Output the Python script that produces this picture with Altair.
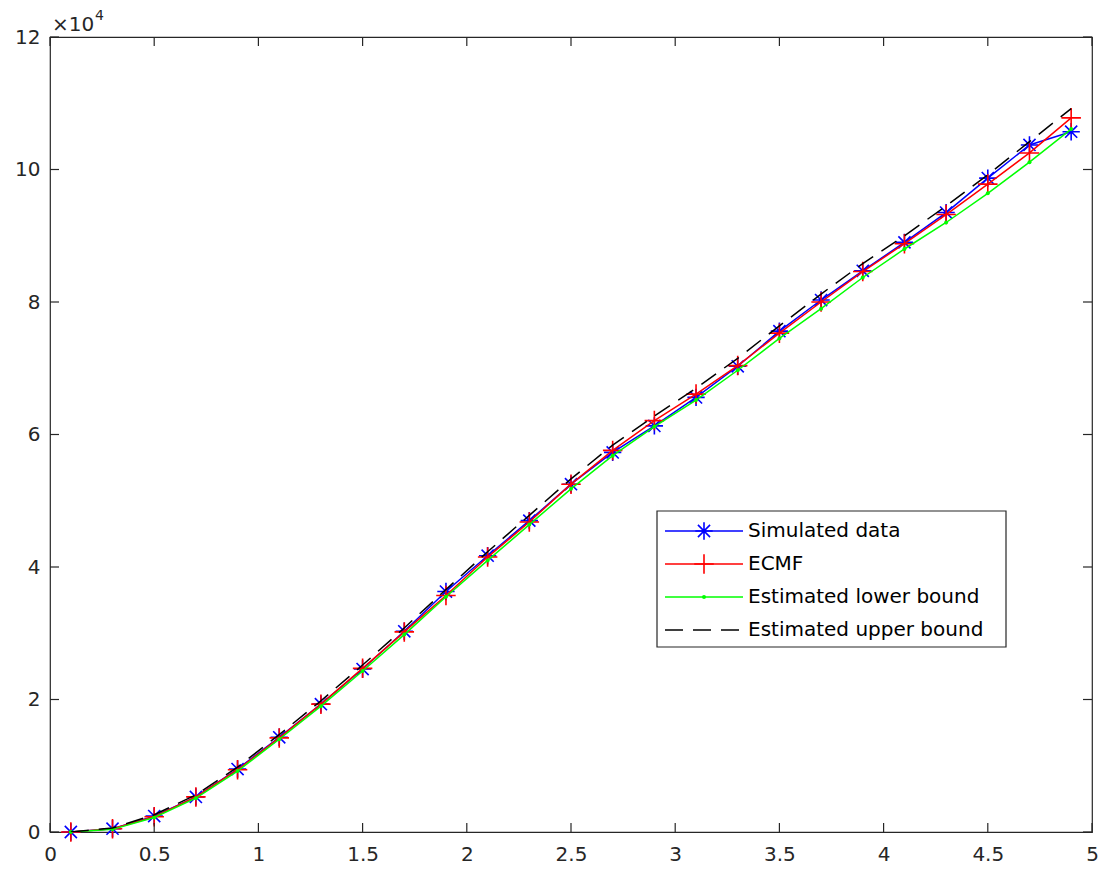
import altair as alt
import pandas as pd

# ---------------- data ----------------
x_vals = [0.1, 0.3, 0.5, 0.7, 0.9, 1.1, 1.3, 1.5, 1.7, 1.9, 2.1, 2.3, 2.5,
          2.7, 2.9, 3.1, 3.3, 3.5, 3.7, 3.9, 4.1, 4.3, 4.5, 4.7, 4.9]

simulated = [0, 500, 2400, 5300, 9500, 14300, 19300, 24600, 30300, 36300,
             41700, 47000, 52500, 57300, 61300, 65600, 70300, 75600, 80300,
             84700, 89000, 93500, 98700, 103700, 105700]

ecmf = [0, 500, 2300, 5300, 9400, 14200, 19300, 24700, 30200, 35700,
        41500, 46800, 52500, 57600, 62100, 66100, 70400, 75300, 80000,
        84600, 88800, 93200, 97800, 102500, 107800]

lower = [0, 400, 2200, 5100, 9200, 14000, 19000, 24300, 29800, 35500,
         41000, 46400, 51800, 56800, 61200, 65200, 69700, 74500, 79000,
         83700, 88000, 92000, 96400, 101100, 106100]

upper = [0, 600, 2600, 5600, 9800, 14700, 19800, 25200, 30800, 36600,
         42300, 47800, 53300, 58400, 62800, 67000, 71500, 76400, 81200,
         85800, 90000, 94500, 99200, 104200, 109200]

series_names = ["Simulated data", "ECMF", "Estimated lower bound", "Estimated upper bound"]
x_ticks = [0, 0.5, 1, 1.5, 2, 2.5, 3, 3.5, 4, 4.5, 5]
y_ticks = [0, 20000, 40000, 60000, 80000, 100000, 120000]

# ---------------- layout / style ----------------
W, H = 1042, 795
AX = "#262626"
FONT = "DejaVu Sans"
STAR = "M-1,0H1M0,-1V1M-0.7,-0.7L0.7,0.7M-0.7,0.7L0.7,-0.7"
PLUS = "M-1,0H1M0,-1V1"
LW = 1.5

xs = alt.Scale(domain=[0, 5], nice=False, zero=False)
ys = alt.Scale(domain=[0, 120000], nice=False, zero=False)

AXIS_X = alt.Axis(values=x_ticks, format="~g", grid=False, domain=False, ticks=False,
                  labelFont=FONT, labelFontSize=20, labelColor=AX, labelPadding=12,
                  labelFlush=False, labelOverlap=False, title=None)
AXIS_Y = alt.Axis(values=y_ticks, labelExpr="datum.value / 10000", grid=False,
                  domain=False, ticks=False, labelFont=FONT, labelFontSize=20,
                  labelColor=AX, labelPadding=10, labelFlush=False,
                  labelOverlap=False, title=None)


def X(f):
    return alt.X(f, scale=xs, axis=AXIS_X, title=None)


def Y(f):
    return alt.Y(f, scale=ys, axis=AXIS_Y, title=None)


def frame(values):
    return pd.DataFrame({"x": x_vals, "y": values})


def line_layer(values, color, dash=None):
    kw = dict(color=color, strokeWidth=LW, clip=True)
    if dash:
        kw["strokeDash"] = dash
    return alt.Chart(frame(values)).mark_line(**kw).encode(x=X("x:Q"), y=Y("y:Q"))


def point_layer(values, **mk):
    return alt.Chart(frame(values)).mark_point(**mk).encode(x=X("x:Q"), y=Y("y:Q"))


STAR_MK = dict(shape=STAR, size=300, filled=False, strokeWidth=1.6)
PLUS_MK = dict(shape=PLUS, size=380, filled=False, strokeWidth=1.6)
DOT_MK = dict(shape="circle", size=16, filled=True)

layers = []
layers.append(line_layer(simulated, "#0000FF"))
layers.append(point_layer(simulated, color="#0000FF", opacity=1, **STAR_MK))
layers.append(line_layer(ecmf, "#FF0000"))
layers.append(point_layer(ecmf, color="#FF0000", opacity=1, **PLUS_MK))
layers.append(line_layer(lower, "#00FF00"))
layers.append(point_layer(lower, color="#00FF00", opacity=1, **DOT_MK))
layers.append(line_layer(upper, "#000000", dash=[18, 10]))

# inward ticks (MATLAB style) on all four sides
xt = pd.DataFrame({"x": x_ticks})
yt = pd.DataFrame({"y": y_ticks})
TL = 9
TW = 1.2
layers.append(alt.Chart(xt).mark_rule(color=AX, strokeWidth=TW).encode(
    x=X("x:Q"), y=alt.value(H), y2=alt.value(H - TL)))
layers.append(alt.Chart(xt).mark_rule(color=AX, strokeWidth=TW).encode(
    x=X("x:Q"), y=alt.value(0), y2=alt.value(TL)))
layers.append(alt.Chart(yt).mark_rule(color=AX, strokeWidth=TW).encode(
    y=Y("y:Q"), x=alt.value(0), x2=alt.value(TL)))
layers.append(alt.Chart(yt).mark_rule(color=AX, strokeWidth=TW).encode(
    y=Y("y:Q"), x=alt.value(W - TL), x2=alt.value(W)))

# exponent label
one = pd.DataFrame({"a": [0]})
layers.append(alt.Chart(one).mark_text(text="\u00d710", font=FONT, fontSize=20,
                                       color=AX, align="left", baseline="alphabetic").encode(
    x=alt.value(2), y=alt.value(-6)))
layers.append(alt.Chart(one).mark_text(text="4", font=FONT, fontSize=14,
                                       color=AX, align="left", baseline="alphabetic").encode(
    x=alt.value(45), y=alt.value(-17)))

# legend
LX0, LX1, LY0, LY1 = 607, 956, 474, 610
layers.append(alt.Chart(one).mark_rect(fill="white", stroke=AX, strokeWidth=TW).encode(
    x=alt.value(LX0), x2=alt.value(LX1), y=alt.value(LY0), y2=alt.value(LY1)))
styles = [
    dict(color="#0000FF", dash=None, mk=STAR_MK),
    dict(color="#FF0000", dash=None, mk=PLUS_MK),
    dict(color="#00FF00", dash=None, mk=DOT_MK),
    dict(color="#000000", dash=[18, 10], mk=None),
]
for i, (name, st) in enumerate(zip(series_names, styles)):
    yy = 494 + 33 * i
    rk = dict(color=st["color"], strokeWidth=LW)
    if st["dash"]:
        rk["strokeDash"] = st["dash"]
    layers.append(alt.Chart(one).mark_rule(**rk).encode(
        x=alt.value(615), x2=alt.value(693), y=alt.value(yy)))
    if st["mk"]:
        layers.append(alt.Chart(one).mark_point(color=st["color"], opacity=1, **st["mk"]).encode(
            x=alt.value(654), y=alt.value(yy)))
    layers.append(alt.Chart(one).mark_text(text=name, font=FONT, fontSize=20, color="#000000",
                                           align="left", baseline="middle").encode(
        x=alt.value(698), y=alt.value(yy)))

chart = alt.layer(*layers).properties(
    width=W, height=H,
    background="white",
    autosize=alt.AutoSizeParams(type="none"),
    padding={"left": 50, "top": 37, "right": 13, "bottom": 48},
).configure_view(stroke=AX, strokeWidth=1.2)

chart.save("out.html", embed_options={"renderer": "svg", "actions": False})
